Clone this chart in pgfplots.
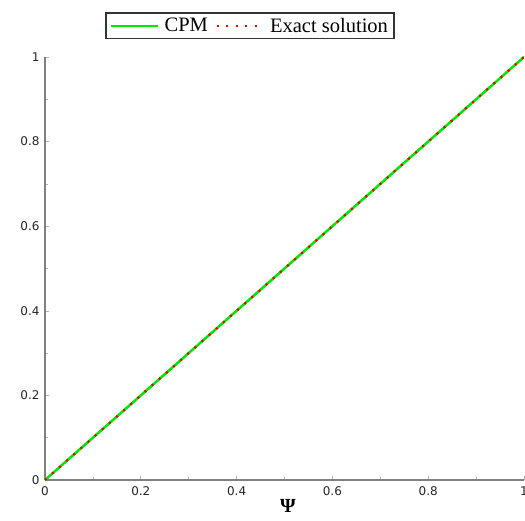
\documentclass[border=0pt]{standalone}
\usepackage{pgfplots}
\pgfplotsset{compat=1.18}
\usepackage{fontspec}
\setmainfont{Liberation Serif}
\newfontfamily\tickfont{DejaVu Sans}
\definecolor{cpmgreen}{RGB}{0,230,0}
\definecolor{exred}{RGB}{235,0,0}
\begin{document}
\begin{tikzpicture}[x=1pt,y=1pt]
\begin{axis}[
  at={(0,0)}, anchor=south west,
  scale only axis, width=479pt, height=423pt,
  xmin=0, xmax=1, ymin=0, ymax=1,
  axis lines*=left,
  axis line style={-, draw=gray, line width=2pt},
  xtick={0,0.2,0.4,0.6,0.8,1}, ytick={0,0.2,0.4,0.6,0.8,1},
  xticklabels={0,0.2,0.4,0.6,0.8,1}, yticklabels={0,0.2,0.4,0.6,0.8,1},
  minor tick num=1,
  tick align=inside,
  major tick length=4pt, minor tick length=3pt,
  tick style={draw=gray!60, line width=0.6pt},
  ticklabel style={font=\tickfont\fontsize{12}{14}\selectfont, text=black!85},
  xticklabel style={yshift=-3pt},
  yticklabel style={xshift=-2pt},
  xlabel={\fontsize{20}{22}\selectfont\textbf{Ψ}},
  xlabel style={at={(axis description cs:0.507,0)}, anchor=north, yshift=-16pt},
  legend columns=2,
  legend style={at={(axis description cs:0.428,1.106)}, anchor=north,
    draw=black!80, line width=1.5pt, font=\fontsize{20.5}{22}\selectfont,
    inner xsep=4pt, inner ysep=3pt,
    /tikz/every odd column/.append style={column sep=3pt},
    /tikz/every even column/.append style={column sep=6pt}},
  legend cell align=left,
  legend image code/.code={\draw[#1] (0pt,0pt) -- (47pt,0pt);},
]
\addplot[cpmgreen, line width=2.5pt] coordinates {(0,0) (1,1)};
\addlegendentry{CPM}
\addplot[exred, line width=2.2pt, dash pattern=on 2pt off 7.5pt] coordinates {(0,0) (1,1)};
\addlegendentry{Exact solution}
\end{axis}
\pgfresetboundingbox
\useasboundingbox (-45,-40) rectangle (480,480);
\end{tikzpicture}
\end{document}
